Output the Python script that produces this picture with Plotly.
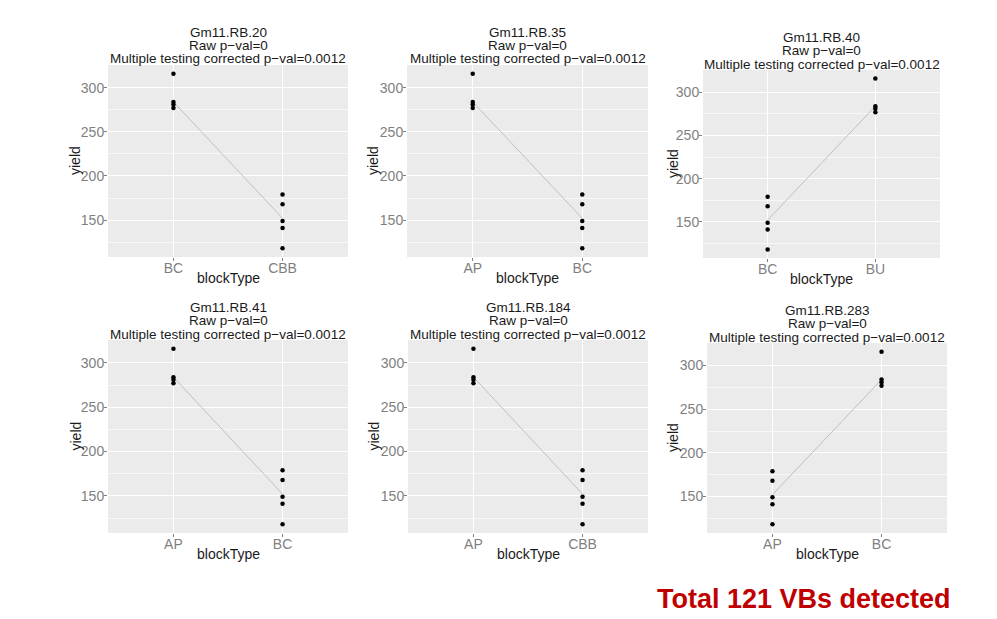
import plotly.graph_objects as go
from plotly.subplots import make_subplots

# the page body has an 8px margin, so the figure is drawn 8px in
OFF = 8
FW, FH = 997 - 2 * OFF, 619 - 2 * OFF

markers = ["Gm11.RB.20", "Gm11.RB.35", "Gm11.RB.40",
           "Gm11.RB.41", "Gm11.RB.184", "Gm11.RB.283"]
left_cat = ["BC", "AP", "BC", "AP", "AP", "AP"]
right_cat = ["CBB", "BC", "BU", "BC", "CBB", "BC"]
high_on_left = [True, True, False, True, True, False]

high_yield = [316, 284, 281, 277]
low_yield = [179, 168, 149, 141, 118]
high_center = 284
low_center = 152

raw_pval = "0"
corrected_pval = "0.0012"

# panel boxes in screen pixels: left, right, top, bottom
boxes = [
    (108, 348, 65, 257), (407, 648, 65, 257), (703, 940, 70, 258),
    (108, 348, 340, 533), (408, 648, 340, 533), (707, 947, 343, 533),
]
ylab_offset = [33, 34, 30, 33, 35, 34]

FONT = "Liberation Sans, Arial, sans-serif"


def px_x(v):
    return (v - OFF) / FW


def px_y(v):
    return 1 - (v - OFF) / FH


fig = make_subplots(rows=2, cols=3)

annotations = []
for i, name in enumerate(markers):
    r, c = i // 3 + 1, i % 3 + 1
    if high_on_left[i]:
        left_vals, right_vals = high_yield, low_yield
        line_y = [high_center, low_center]
    else:
        left_vals, right_vals = low_yield, high_yield
        line_y = [low_center, high_center]
    cats = [left_cat[i], right_cat[i]]

    fig.add_trace(go.Scatter(
        x=cats, y=line_y, mode="lines",
        line=dict(color="#c0c0c0", width=1), showlegend=False,
    ), row=r, col=c)
    fig.add_trace(go.Scatter(
        x=[left_cat[i]] * len(left_vals) + [right_cat[i]] * len(right_vals),
        y=left_vals + right_vals, mode="markers",
        marker=dict(color="black", size=4.5), showlegend=False,
    ), row=r, col=c)

    x0, x1, y0, y1 = boxes[i]
    fig.update_xaxes(
        domain=[px_x(x0), px_x(x1)], type="category", categoryorder="array",
        categoryarray=cats, range=[-0.6, 1.6],
        showgrid=True, gridcolor="white", gridwidth=1.3, zeroline=False,
        ticks="outside", ticklen=3, tickcolor="#7f7f7f", ticklabelstandoff=-5,
        tickfont=dict(family=FONT, size=14, color="#7f7f7f"),
        showline=False, row=r, col=c,
    )
    fig.update_yaxes(
        domain=[px_y(y1), px_y(y0)], range=[108.1, 325.9],
        tick0=0, dtick=50, showgrid=True, gridcolor="white", gridwidth=1.3,
        minor=dict(dtick=25, showgrid=True, gridcolor="#f7f7f7", gridwidth=0.6),
        zeroline=False, ticks="outside", ticklen=3, tickcolor="#7f7f7f",
        ticklabelstandoff=-3,
        tickfont=dict(family=FONT, size=14, color="#7f7f7f"),
        showline=False, row=r, col=c,
    )

    xc = px_x((x0 + x1) / 2)
    title_lines = [name, "Raw p\u2212val=" + raw_pval,
                   "Multiple testing corrected p\u2212val=" + corrected_pval]
    for k, txt in enumerate(title_lines):
        annotations.append(dict(
            text=txt, xref="paper", yref="paper", x=xc,
            y=px_y(y0 - [33, 19.5, 6][k]), xanchor="center", yanchor="middle",
            showarrow=False, borderpad=0,
            font=dict(family=FONT, size=13.5, color="#1a1a1a"),
        ))
    annotations.append(dict(
        text="blockType", xref="paper", yref="paper", x=xc,
        y=px_y(y1 + 21), xanchor="center", yanchor="middle",
        showarrow=False, font=dict(family=FONT, size=14, color="#1a1a1a"),
    ))
    annotations.append(dict(
        text="yield", xref="paper", yref="paper", x=px_x(x0 - ylab_offset[i]),
        y=px_y((y0 + y1) / 2), xanchor="center", yanchor="middle",
        textangle=-90, showarrow=False,
        font=dict(family=FONT, size=14, color="#1a1a1a"),
    ))

annotations.append(dict(
    text="<b>Total 121 VBs detected</b>", xref="paper", yref="paper",
    x=px_x(655), y=px_y(599), xanchor="left", yanchor="middle",
    showarrow=False, font=dict(family=FONT, size=27, color="#c00000"),
))

fig.update_layout(
    width=FW, height=FH, margin=dict(l=0, r=0, t=0, b=0),
    plot_bgcolor="#ebebeb", paper_bgcolor="white",
    annotations=annotations, showlegend=False,
)

fig.write_html("out.html")
